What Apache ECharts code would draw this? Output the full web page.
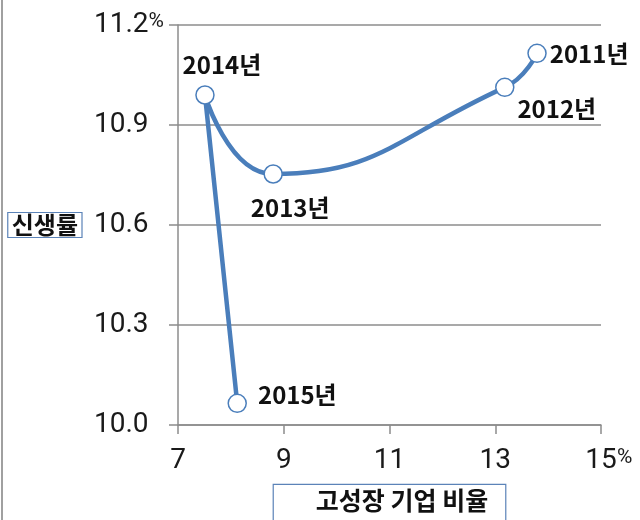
<!DOCTYPE html>
<html><head><meta charset="utf-8">
<script src="https://cdn.jsdelivr.net/npm/echarts@6/dist/echarts.min.js"></script>
<style>html,body{margin:0;padding:0;background:#fff}#c{width:640px;height:520px}</style>
</head><body><div id="c"></div>
<script>
const years = ['2011년', '2012년', '2013년', '2014년', '2015년'];
const highGrowthShare = [13.79, 13.18, 8.80, 7.51, 8.12];
const birthRate = [11.115, 11.013, 10.753, 10.99, 10.065];
const xTicks = [7, 9, 11, 13, 15];
const yTicks = [10.0, 10.3, 10.6, 10.9, 11.2];
const xName = '고성장 기업 비율';
const yName = '신생률';

const labelPlace = [
  {position: 'right', offset: [-2, 1]},
  {position: 'bottom', offset: [52, -5]},
  {position: 'bottom', offset: [17, 7]},
  {position: 'top', offset: [17, -3]},
  {position: 'right', offset: [6, -8]}
];
const numFont = "'Liberation Sans Narrow', 'Roboto', sans-serif";
const data = years.map((y, i) => ({
  value: [highGrowthShare[i], birthRate[i]],
  name: y,
  label: Object.assign({show: true, formatter: y}, labelPlace[i])
}));

const chart = echarts.init(document.getElementById('c'), null, {renderer: 'canvas'});
chart.setOption({
  animation: false,
  backgroundColor: '#fff',
  graphic: [{type: 'rect', shape: {x: 1, y: 0, width: 2, height: 520}, style: {fill: '#a0a0a0'}, silent: true}],
  grid: {left: 178, right: 39, top: 25, bottom: 95, containLabel: false, outerBoundsMode: 'none'},
  xAxis: {
    type: 'value', min: 7, max: 15, interval: 2,
    name: xName, nameLocation: 'middle', nameGap: 60,
    nameTextStyle: {
      fontFamily: "'Noto Sans CJK KR', sans-serif", fontWeight: 'bold', fontSize: 25, color: '#111',
      borderColor: '#5b83b8', borderWidth: 1.2, padding: [3, 17, 10, 42], backgroundColor: '#fff'
    },
    axisLine: {show: true, lineStyle: {color: '#8c8c8c', width: 1.5}},
    axisTick: {show: true, inside: false, length: 9, lineStyle: {color: '#8c8c8c', width: 1.5}},
    splitLine: {show: false},
    axisLabel: {
      margin: 22, fontFamily: numFont, fontSize: 28, color: '#1a1a1a',
      formatter: v => xTicks.indexOf(v) < 0 ? '' : (v === 15 ? '{s|}' + v + '{p|%}' : String(v)),
      rich: {p: {fontSize: 21, fontFamily: numFont, color: '#1a1a1a', width: 16, verticalAlign: 'top'}, s: {width: 16}}
    }
  },
  yAxis: {
    type: 'value', min: 10.0, max: 11.2, interval: 0.3,
    name: yName, nameLocation: 'middle', nameGap: 96, nameRotate: 0,
    nameTextStyle: {
      fontFamily: "'Noto Sans CJK KR', sans-serif", fontWeight: 'bold', fontSize: 24, color: '#111',
      borderColor: '#5b83b8', borderWidth: 1.2, padding: [1, 4, 0, 4]
    },
    axisLine: {show: true, lineStyle: {color: '#8c8c8c', width: 1.5}},
    axisTick: {show: true, inside: false, length: 9, lineStyle: {color: '#8c8c8c', width: 1.5}},
    splitLine: {show: true, lineStyle: {color: '#8c8c8c', width: 1.5}},
    axisLabel: {
      margin: 84, align: 'left', fontFamily: numFont, fontSize: 28, color: '#1a1a1a',
      formatter: v => {
        const t = yTicks.find(k => Math.abs(k - v) < 1e-6);
        if (t === undefined) return '';
        const s = t.toFixed(1);
        return t === 11.2 ? s + '{p|%}' : s;
      },
      rich: {p: {fontSize: 21, fontFamily: numFont, color: '#1a1a1a', verticalAlign: 'top'}}
    }
  },
  series: [{
    type: 'line',
    data: data,
    smooth: 0.5,
    lineStyle: {color: '#4a7ebb', width: 4.5},
    symbol: 'circle', symbolSize: 18,
    itemStyle: {color: '#fff', borderColor: '#4a7ebb', borderWidth: 1.5},
    label: {
      fontFamily: "'Noto Sans CJK KR', sans-serif", fontWeight: 'bold', fontSize: 24, color: '#111'
    },
    z: 5
  }]
});
</script></body></html>
